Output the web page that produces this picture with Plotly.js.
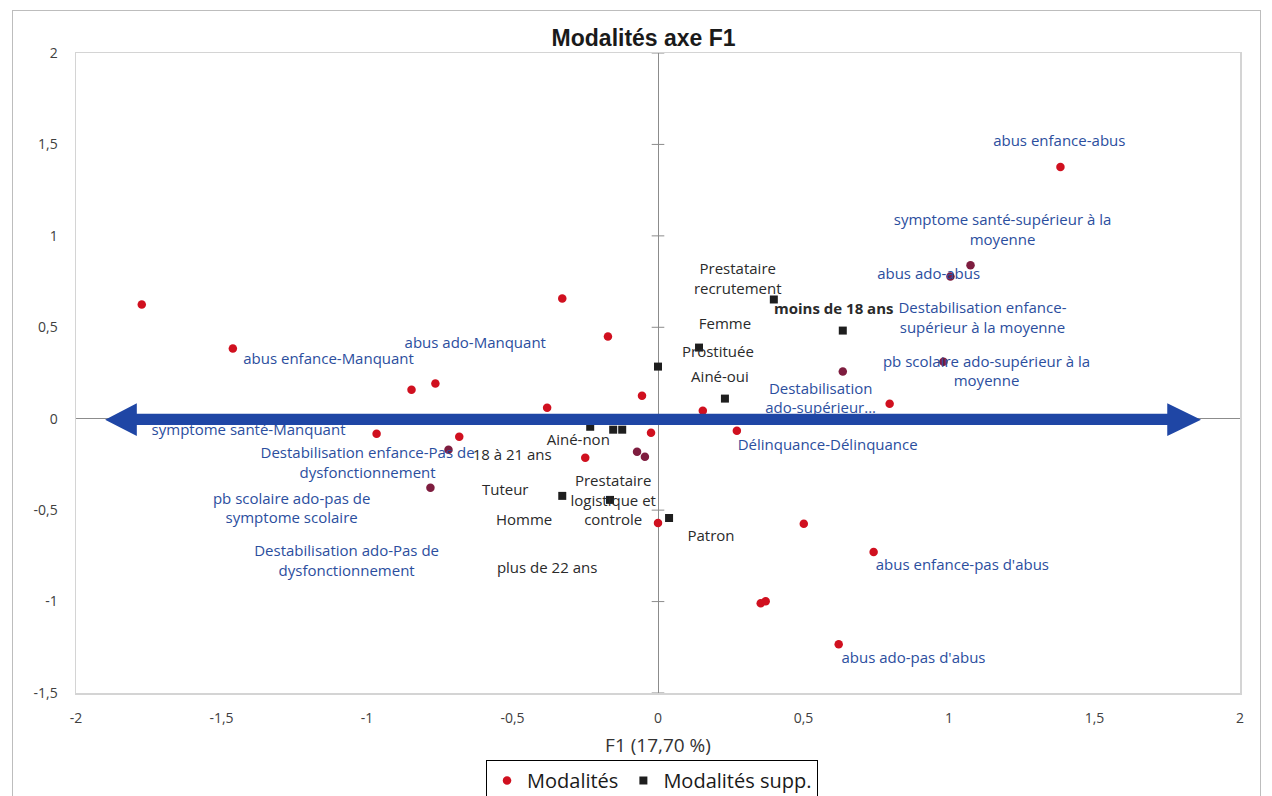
<!DOCTYPE html>
<html>
<head>
<meta charset="utf-8">
<script src="https://cdn.plot.ly/plotly-3.0.1.min.js"></script>
<style>
  html, body { margin: 0; padding: 0; background: #fff; }
  #wrap { position: relative; width: 1272px; height: 796px; overflow: hidden; }
  #chart { width: 1272px; height: 796px; }
  #frame { position: absolute; left: 12px; top: 10px; width: 1249px; height: 800px;
           border: 1.5px solid #bdbdbd; pointer-events: none; box-sizing: border-box; }
</style>
</head>
<body>
<div id="wrap">
  <div id="chart"></div>
  <div id="frame"></div>
</div>
<script>
// ---- Data: active categories (Modalités) ----
const modX = [-1.774, -1.461, -0.329, -0.172, -0.847, -0.765, -0.381, -0.055, 0.154, -0.967,
              -0.683, -0.720, -0.782, -0.250, -0.024, -0.072, -0.045, 0.271, 0.000, 0.501,
              0.741, 0.353, 0.370, 0.621, 1.383, 1.074, 1.005, 0.981, 0.635, 0.796];
const modY = [0.625, 0.384, 0.658, 0.450, 0.159, 0.192, 0.060, 0.126, 0.044, -0.082,
              -0.099, -0.170, -0.378, -0.214, -0.077, -0.181, -0.208, -0.066, -0.570, -0.575,
              -0.729, -1.009, -0.998, -1.234, 1.376, 0.839, 0.778, 0.312, 0.258, 0.082];
// points that appear darker (maroon) in the picture
const modDark = [false, false, false, false, false, false, false, false, false, false,
                 false, true, true, false, false, true, true, false, false, false,
                 false, false, false, false, false, true, true, true, true, false];

// ---- Data: supplementary categories (Modalités supp.) ----
const suppX = [0.398, 0.635, 0.141, 0.000, 0.230, -0.233, -0.154, -0.123, -0.329, -0.165, 0.038];
const suppY = [0.652, 0.482, 0.389, 0.285, 0.110, -0.044, -0.060, -0.060, -0.422, -0.444, -0.543];

// ---- Labels of active categories ----
const modLabels = [
  "abus enfance-abus",
  "symptome santé-supérieur à la<br>moyenne",
  "abus ado-abus",
  "Destabilisation enfance-<br>supérieur à la moyenne",
  "pb scolaire ado-supérieur à la<br>moyenne",
  "Destabilisation<br>ado-supérieur...",
  "Délinquance-Délinquance",
  "abus enfance-pas d'abus",
  "abus ado-pas d'abus",
  "abus ado-Manquant",
  "abus enfance-Manquant",
  "symptome santé-Manquant",
  "Destabilisation enfance-Pas de<br>dysfonctionnement",
  "pb scolaire ado-pas de<br>symptome scolaire",
  "Destabilisation ado-Pas de<br>dysfonctionnement"
];
const modLabelX = [1.379, 1.184, 0.930, 1.115, 1.129, 0.559, 0.583, 1.046, 0.878, -0.628, -1.132, -1.407, -0.998, -1.259, -1.070];
const modLabelY = [1.513, 1.025, 0.784, 0.543, 0.252, 0.104, -0.148, -0.806, -1.316, 0.406, 0.318, -0.066, -0.249, -0.499, -0.784];

// ---- Labels of supplementary categories ----
const suppLabels = [
  "Prestataire<br>recrutement",
  "<b>moins de 18 ans</b>",
  "Femme",
  "Prostituée",
  "Ainé-oui",
  "Ainé-non",
  "18 à 21 ans",
  "Prestataire<br>logistique et<br>controle",
  "Tuteur",
  "Homme",
  "plus de 22 ans",
  "Patron"
];
const suppLabelX = [0.274, 0.604, 0.230, 0.206, 0.213, -0.274, -0.501, -0.154, -0.525, -0.460, -0.381, 0.182];
const suppLabelY = [0.757, 0.592, 0.510, 0.356, 0.219, -0.121, -0.203, -0.455, -0.395, -0.559, -0.822, -0.647];

// ---- Axis ticks ----
const xTicks = [-2, -1.5, -1, -0.5, 0, 0.5, 1, 1.5, 2];
const yTicks = [-1.5, -1, -0.5, 0, 0.5, 1, 1.5, 2];

// ---- Styles ----
const RED = "#d0101f";
const DARK = "#7e1d3f";
const SQ = "#1e1e1e";
const BLUE_TXT = "#2b4e9e";
const BLACK_TXT = "#2a2a2a";
const ARROW = "#1f46a5";
const FONT = "Open Sans, Lato, sans-serif";

const traces = [
  {
    type: "scatter", mode: "markers", name: "Modalités",
    x: modX, y: modY,
    marker: { symbol: "circle", size: 8.5, color: modDark.map(d => d ? DARK : RED) },
    hoverinfo: "x+y"
  },
  {
    type: "scatter", mode: "markers", name: "Modalités supp.",
    x: suppX, y: suppY,
    marker: { symbol: "square", size: 8, color: SQ },
    hoverinfo: "x+y"
  },
  {
    type: "scatter", mode: "markers", showlegend: false, hoverinfo: "skip",
    x: yTicks.map(() => 0), y: yTicks,
    marker: { symbol: "line-ew-open", size: 9, color: "#8c8c8c", line: { color: "#8c8c8c", width: 1 } }
  },
  {
    type: "scatter", mode: "text", showlegend: false, hoverinfo: "skip",
    x: modLabelX, y: modLabelY, text: modLabels,
    textposition: "middle center",
    textfont: { family: FONT, size: 15, color: BLUE_TXT }
  },
  {
    type: "scatter", mode: "text", showlegend: false, hoverinfo: "skip",
    x: suppLabelX, y: suppLabelY, text: suppLabels,
    textposition: "middle center",
    textfont: { family: FONT, size: 15, color: BLACK_TXT }
  }
];

// double-headed arrow along F1 (decoration)
const arrowPath = "M -1.900,-0.005 L -1.791,0.085 L -1.791,0.027 L 1.750,0.027 L 1.750,0.085 " +
                  "L 1.866,-0.005 L 1.750,-0.095 L 1.750,-0.035 L -1.791,-0.035 L -1.791,-0.095 Z";

const layout = {
  width: 1272, height: 796,
  margin: { l: 76, r: 32, t: 53, b: 103 },
  paper_bgcolor: "#ffffff", plot_bgcolor: "#ffffff",
  separators: ", ",
  font: { family: FONT, color: "#333" },
  title: {
    text: "<b>Modalités axe F1</b>",
    font: { family: "Liberation Sans, Arial, sans-serif", size: 23, color: "#1a1a1a" },
    x: 0.506, xanchor: "center", y: 0.952, yanchor: "middle"
  },
  xaxis: {
    range: [-2, 2], tickvals: xTicks, ticktext: xTicks.map(v => String(v).replace(".", ",")),
    showgrid: false, zeroline: true, zerolinecolor: "#8c8c8c", zerolinewidth: 1,
    showline: true, linecolor: "#d4d4d4", linewidth: 1.5, mirror: true,
    ticks: "", ticklabelstandoff: 12, automargin: false,
    tickfont: { family: FONT, size: 14, color: "#404040" },
    title: { text: "F1 (17,70 %)", font: { family: FONT, size: 19, color: "#333" }, standoff: 12 }
  },
  yaxis: {
    range: [-1.5, 2], tickvals: yTicks, ticktext: yTicks.map(v => String(v).replace(".", ",")),
    showgrid: false, zeroline: true, zerolinecolor: "#8c8c8c", zerolinewidth: 1,
    showline: true, linecolor: "#d4d4d4", linewidth: 1.5, mirror: true,
    ticks: "", ticklabelstandoff: 14, automargin: false,
    tickfont: { family: FONT, size: 14, color: "#404040" }
  },
  showlegend: true,
  legend: {
    orientation: "h", xref: "container", x: 0.5126, xanchor: "center",
    yref: "container", y: 1 - 760 / 796, yanchor: "top",
    bordercolor: "#000", borderwidth: 1, bgcolor: "#fff",
    font: { family: FONT, size: 20, color: "#1a1a1a" }
  },
  shapes: [
    { type: "path", xref: "x", yref: "y", path: arrowPath, fillcolor: ARROW,
      line: { width: 0 }, layer: "above" }
  ]
};

Plotly.newPlot("chart", traces, layout, { displayModeBar: false, staticPlot: true });
</script>
</body>
</html>
